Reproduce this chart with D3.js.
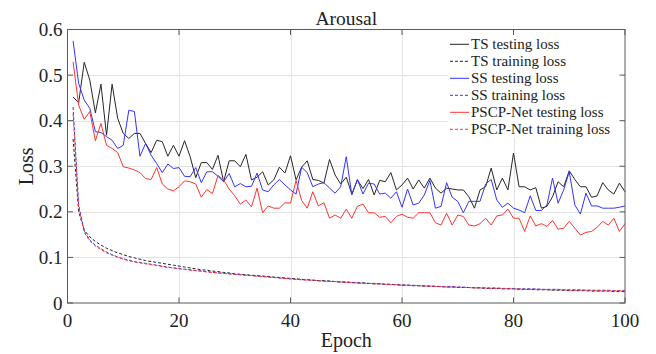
<!DOCTYPE html>
<html>
<head>
<meta charset="utf-8">
<script src="https://cdn.jsdelivr.net/npm/d3@7"></script>
<style>
  body { margin: 0; background: #fff; }
  text { font-family: "Liberation Serif", "Times New Roman", serif; fill: #222; }
</style>
</head>
<body>
<div id="chart"></div>
<script>
// epochs 1..100
const epochs = d3.range(1, 101);

const tsTest = [0.452, 0.439, 0.528, 0.489, 0.417, 0.48, 0.368, 0.48, 0.405, 0.372,
  0.361, 0.372, 0.372, 0.35, 0.33, 0.357, 0.354, 0.322, 0.346, 0.322,
  0.356, 0.321, 0.275, 0.308, 0.308, 0.293, 0.324, 0.266, 0.312, 0.312,
  0.299, 0.326, 0.27, 0.276, 0.288, 0.259, 0.27, 0.298, 0.285, 0.323,
  0.27, 0.298, 0.312, 0.271, 0.269, 0.263, 0.315, 0.281, 0.261, 0.276,
  0.239, 0.27, 0.251, 0.271, 0.237, 0.269, 0.266, 0.286, 0.248, 0.259,
  0.274, 0.25, 0.27, 0.252, 0.274, 0.252, 0.241, 0.252, 0.25, 0.248,
  0.248, 0.233, 0.208, 0.248, 0.255, 0.296, 0.248, 0.274, 0.248, 0.329,
  0.255, 0.255, 0.248, 0.253, 0.208, 0.212, 0.233, 0.266, 0.255, 0.29,
  0.271, 0.255, 0.255, 0.232, 0.235, 0.264, 0.248, 0.239, 0.263, 0.244];

const tsTrain = [0.360, 0.200, 0.160, 0.145, 0.135, 0.127, 0.120, 0.115, 0.110, 0.106,
  0.102, 0.099, 0.096, 0.093, 0.091, 0.089, 0.087, 0.085, 0.083, 0.081,
  0.079, 0.077, 0.075, 0.073, 0.072, 0.070, 0.069, 0.067, 0.066, 0.064,
  0.063, 0.062, 0.061, 0.060, 0.059, 0.058, 0.057, 0.056, 0.055, 0.054,
  0.053, 0.052, 0.051, 0.050, 0.049, 0.049, 0.048, 0.047, 0.046, 0.046,
  0.045, 0.044, 0.044, 0.043, 0.042, 0.042, 0.041, 0.041, 0.040, 0.039,
  0.039, 0.038, 0.038, 0.037, 0.037, 0.036, 0.036, 0.035, 0.035, 0.034,
  0.034, 0.034, 0.033, 0.033, 0.032, 0.032, 0.032, 0.031, 0.031, 0.031,
  0.030, 0.030, 0.030, 0.029, 0.029, 0.029, 0.028, 0.028, 0.028, 0.027,
  0.027, 0.027, 0.027, 0.026, 0.026, 0.026, 0.026, 0.025, 0.025, 0.025];

const ssTest = [0.575, 0.482, 0.445, 0.427, 0.376, 0.374, 0.365, 0.357, 0.339, 0.346,
  0.423, 0.42, 0.322, 0.35, 0.324, 0.306, 0.286, 0.305, 0.295, 0.297,
  0.278, 0.277, 0.297, 0.264, 0.288, 0.288, 0.278, 0.266, 0.284, 0.255,
  0.262, 0.255, 0.256, 0.285, 0.248, 0.244, 0.259, 0.271, 0.259, 0.248,
  0.239, 0.298, 0.286, 0.255, 0.261, 0.264, 0.252, 0.241, 0.255, 0.321,
  0.237, 0.271, 0.239, 0.263, 0.261, 0.239, 0.241, 0.23, 0.244, 0.21,
  0.25, 0.215, 0.219, 0.237, 0.269, 0.208, 0.212, 0.264, 0.232, 0.223,
  0.198, 0.223, 0.223, 0.223, 0.261, 0.271, 0.226, 0.21, 0.219, 0.208,
  0.204, 0.198, 0.235, 0.203, 0.203, 0.215, 0.274, 0.219, 0.248, 0.288,
  0.215, 0.195, 0.241, 0.213, 0.213, 0.208, 0.208, 0.208, 0.21, 0.213];

const ssTrain = [0.430, 0.215, 0.158, 0.138, 0.127, 0.119, 0.112, 0.106, 0.101, 0.097,
  0.094, 0.091, 0.089, 0.087, 0.085, 0.083, 0.081, 0.079, 0.077, 0.076,
  0.074, 0.073, 0.071, 0.070, 0.069, 0.067, 0.066, 0.065, 0.064, 0.063,
  0.062, 0.061, 0.060, 0.059, 0.058, 0.057, 0.056, 0.055, 0.054, 0.053,
  0.052, 0.051, 0.051, 0.050, 0.049, 0.048, 0.048, 0.047, 0.046, 0.046,
  0.045, 0.044, 0.044, 0.043, 0.043, 0.042, 0.041, 0.041, 0.040, 0.040,
  0.039, 0.039, 0.038, 0.038, 0.037, 0.037, 0.036, 0.036, 0.036, 0.035,
  0.035, 0.034, 0.034, 0.034, 0.033, 0.033, 0.033, 0.032, 0.032, 0.032,
  0.031, 0.031, 0.031, 0.031, 0.030, 0.030, 0.030, 0.030, 0.029, 0.029,
  0.029, 0.029, 0.028, 0.028, 0.028, 0.028, 0.028, 0.027, 0.027, 0.027];

const pscpTest = [0.529, 0.434, 0.403, 0.42, 0.356, 0.394, 0.346, 0.339, 0.33, 0.299,
  0.296, 0.292, 0.286, 0.273, 0.271, 0.297, 0.261, 0.25, 0.246, 0.255,
  0.268, 0.266, 0.261, 0.232, 0.249, 0.24, 0.28, 0.27, 0.25, 0.235,
  0.217, 0.226, 0.211, 0.252, 0.198, 0.213, 0.208, 0.208, 0.22, 0.219,
  0.269, 0.225, 0.208, 0.244, 0.213, 0.22, 0.186, 0.193, 0.186, 0.206,
  0.186, 0.212, 0.217, 0.198, 0.198, 0.188, 0.19, 0.176, 0.19, 0.195,
  0.188, 0.186, 0.198, 0.198, 0.198, 0.176, 0.171, 0.197, 0.171, 0.193,
  0.19, 0.171, 0.169, 0.174, 0.186, 0.171, 0.191, 0.193, 0.206, 0.186,
  0.186, 0.157, 0.191, 0.169, 0.174, 0.168, 0.181, 0.162, 0.164, 0.179,
  0.164, 0.149, 0.155, 0.157, 0.166, 0.179, 0.171, 0.186, 0.157, 0.174];

const pscpTrain = [0.415, 0.210, 0.155, 0.136, 0.125, 0.117, 0.110, 0.105, 0.100, 0.096,
  0.093, 0.090, 0.088, 0.086, 0.084, 0.082, 0.080, 0.078, 0.077, 0.075,
  0.074, 0.072, 0.071, 0.070, 0.068, 0.067, 0.066, 0.065, 0.064, 0.063,
  0.062, 0.061, 0.060, 0.059, 0.058, 0.057, 0.056, 0.055, 0.054, 0.053,
  0.052, 0.051, 0.050, 0.050, 0.049, 0.048, 0.047, 0.047, 0.046, 0.045,
  0.045, 0.044, 0.043, 0.043, 0.042, 0.042, 0.041, 0.040, 0.040, 0.039,
  0.039, 0.038, 0.038, 0.037, 0.037, 0.036, 0.036, 0.035, 0.035, 0.035,
  0.034, 0.034, 0.033, 0.033, 0.033, 0.032, 0.032, 0.032, 0.031, 0.031,
  0.031, 0.030, 0.030, 0.030, 0.030, 0.029, 0.029, 0.029, 0.029, 0.028,
  0.028, 0.028, 0.028, 0.028, 0.027, 0.027, 0.027, 0.027, 0.027, 0.027];

const xTicks = [0, 20, 40, 60, 80, 100];
const yTicks = [0, 0.1, 0.2, 0.3, 0.4, 0.5, 0.6];

const series = [
  { name: "TS testing loss", values: tsTest, color: "#262626", dash: null },
  { name: "TS training loss", values: tsTrain, color: "#262626", dash: "3,2" },
  { name: "SS testing loss", values: ssTest, color: "#3333ff", dash: null },
  { name: "SS training loss", values: ssTrain, color: "#3333ff", dash: "3,2" },
  { name: "PSCP-Net testing loss", values: pscpTest, color: "#ff3333", dash: null },
  { name: "PSCP-Net training loss", values: pscpTrain, color: "#ff3333", dash: "3,2" }
];

// set the dimensions of the plot box
let W = 656, H = 354;
let plotL = 67.5, plotR = 625, plotT = 29.5, plotB = 303;

let svg = d3.select("#chart")
  .append("svg")
  .attr("width", W)
  .attr("height", H);

var x = d3.scaleLinear().domain([0, 100]).range([plotL, plotR]);
var y = d3.scaleLinear().domain([0, 0.6]).range([plotB, plotT]);

// grid lines
svg.append("g")
  .selectAll("line")
  .data(xTicks.slice(1, -1))
  .enter().append("line")
  .attr("x1", d => Math.round(x(d)) + 0.5).attr("x2", d => Math.round(x(d)) + 0.5)
  .attr("y1", plotT).attr("y2", plotB)
  .attr("stroke", "#e3e3e3").attr("stroke-width", 1);

svg.append("g")
  .selectAll("line")
  .data(yTicks.slice(1, -1))
  .enter().append("line")
  .attr("x1", plotL).attr("x2", plotR)
  .attr("y1", d => Math.round(y(d)) + 0.5).attr("y2", d => Math.round(y(d)) + 0.5)
  .attr("stroke", "#e3e3e3").attr("stroke-width", 1);

// lines
series.forEach(function(s) {
  var line = d3.line()
    .x((d, i) => x(epochs[i]))
    .y(d => y(d));
  svg.append("path")
    .datum(s.values)
    .attr("fill", "none")
    .attr("stroke", s.color)
    .attr("stroke-width", 1)
    .attr("stroke-dasharray", s.dash)
    .attr("d", line);
});

// legend
let legX = 448, legY = 31, rowH = 17;
let legend = svg.append("g");
legend.append("rect")
  .attr("x", legX).attr("y", legY)
  .attr("width", 174).attr("height", 106)
  .attr("fill", "#fff");
series.forEach(function(s, i) {
  let cy = legY + 13.3 + i * rowH;
  legend.append("line")
    .attr("x1", legX + 2).attr("x2", legX + 21)
    .attr("y1", cy).attr("y2", cy)
    .attr("stroke", s.color)
    .attr("stroke-width", 1)
    .attr("stroke-dasharray", s.dash);
  legend.append("text")
    .attr("x", legX + 23).attr("y", cy + 5)
    .attr("font-size", "15px")
    .text(s.name);
});

// axes box
let axisColor = "#5a5a5a";
svg.append("rect")
  .attr("x", plotL).attr("y", plotT)
  .attr("width", plotR - plotL).attr("height", plotB - plotT)
  .attr("fill", "none").attr("stroke", axisColor).attr("stroke-width", 1);

// inward ticks on all sides
let tk = 5.5;
xTicks.forEach(function(d) {
  svg.append("line").attr("x1", x(d)).attr("x2", x(d)).attr("y1", plotB).attr("y2", plotB - tk)
    .attr("stroke", axisColor);
  svg.append("line").attr("x1", x(d)).attr("x2", x(d)).attr("y1", plotT).attr("y2", plotT + tk)
    .attr("stroke", axisColor);
  svg.append("text")
    .attr("x", x(d)).attr("y", plotB + 24)
    .attr("text-anchor", "middle")
    .attr("font-size", "19px")
    .text(d);
});
yTicks.forEach(function(d) {
  svg.append("line").attr("x1", plotL).attr("x2", plotL + tk).attr("y1", y(d)).attr("y2", y(d))
    .attr("stroke", axisColor);
  svg.append("line").attr("x1", plotR).attr("x2", plotR - tk).attr("y1", y(d)).attr("y2", y(d))
    .attr("stroke", axisColor);
  svg.append("text")
    .attr("x", plotL - 5).attr("y", y(d) + 6.5)
    .attr("text-anchor", "end")
    .attr("font-size", "19px")
    .text(d);
});

// title and axis labels
svg.append("text")
  .attr("x", (plotL + plotR) / 2).attr("y", 24.5)
  .attr("text-anchor", "middle")
  .attr("font-size", "19.5px")
  .text("Arousal");

svg.append("text")
  .attr("x", (plotL + plotR) / 2).attr("y", 347)
  .attr("text-anchor", "middle")
  .attr("font-size", "20px")
  .text("Epoch");

svg.append("text")
  .attr("transform", "translate(33," + ((plotT + plotB) / 2) + ") rotate(-90)")
  .attr("text-anchor", "middle")
  .attr("font-size", "20px")
  .text("Loss");
</script>
</body>
</html>
